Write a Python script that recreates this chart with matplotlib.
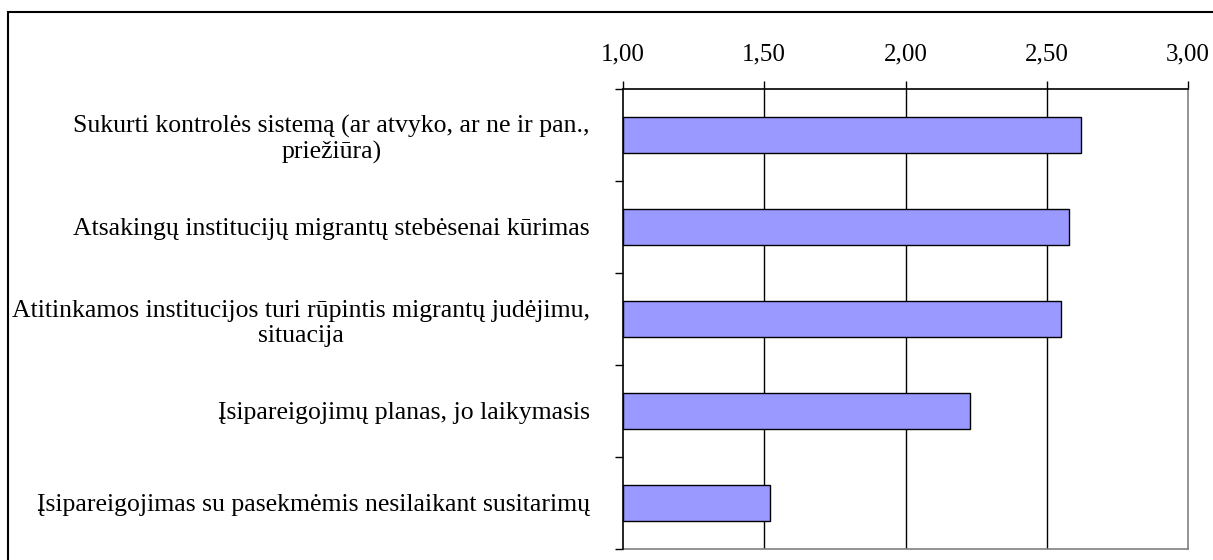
import matplotlib.pyplot as plt
import matplotlib.patches as patches
import numpy as np

# chart data
categories = [
    "Sukurti kontrolės sistemą (ar atvyko, ar ne ir pan.,\npriežiūra)",
    "Atsakingų institucijų migrantų stebėsenai kūrimas",
    "Atitinkamos institucijos turi rūpintis migrantų judėjimu,\nsituacija",
    "Įsipareigojimų planas, jo laikymasis",
    "Įsipareigojimas su pasekmėmis nesilaikant susitarimų",
]
values = [2.62, 2.58, 2.55, 2.23, 1.52]
x_ticks = [1.00, 1.50, 2.00, 2.50, 3.00]
x_labels = ["1,00", "1,50", "2,00", "2,50", "3,00"]

plt.rcParams['font.family'] = ['Liberation Serif', 'DejaVu Serif']

W, H = 1213, 560
fig = plt.figure(figsize=(W / 100, H / 100), dpi=100)
ax = fig.add_axes([623 / W, 1 - 549 / H, (1188 - 623) / W, (549 - 89) / H])

y = np.arange(len(categories))
xmin = x_ticks[0]
ax.barh(y, np.array(values) - xmin, left=xmin, height=0.39,
        color='#9999FF', edgecolor='black', linewidth=1.0, zorder=3)

ax.set_xlim(x_ticks[0], x_ticks[-1])
ax.set_ylim(len(categories) - 0.5, -0.5)

# x axis on top
ax.xaxis.tick_top()
ax.set_xticks(x_ticks)
ax.set_xticklabels(x_labels, fontsize=18)
ax.tick_params(axis='x', direction='out', length=6, width=1, pad=11, color='black')

# separators as major ticks, labels as minor ticks
ax.set_yticks(np.arange(-0.5, len(categories), 1.0))
ax.set_yticklabels([])
ax.set_yticks(y, minor=True)
ax.set_yticklabels(categories, minor=True, fontsize=18.5,
                   multialignment='center', linespacing=1.18)
ax.tick_params(axis='y', which='major', direction='out', length=6, width=1, color='black')
ax.tick_params(axis='y', which='minor', length=0, pad=24)

# gridlines
for xv in x_ticks[1:-1]:
    ax.axvline(xv, color='black', linewidth=1, zorder=1)

ax.spines['top'].set_color('black')
ax.spines['left'].set_color('black')
ax.spines['right'].set_color('#808080')
ax.spines['bottom'].set_color('#808080')
for s in ax.spines.values():
    s.set_linewidth(1.2)
ax.spines['top'].set_zorder(4)
ax.spines['left'].set_zorder(4)

# outer chart frame
frame = patches.Rectangle((8 / W, -0.05), 1.1, 1 - 12 / H + 0.05,
                          transform=fig.transFigure, fill=False,
                          edgecolor='black', linewidth=1.5, clip_on=False)
fig.patches.append(frame)

fig.savefig('out.png', dpi=100)
